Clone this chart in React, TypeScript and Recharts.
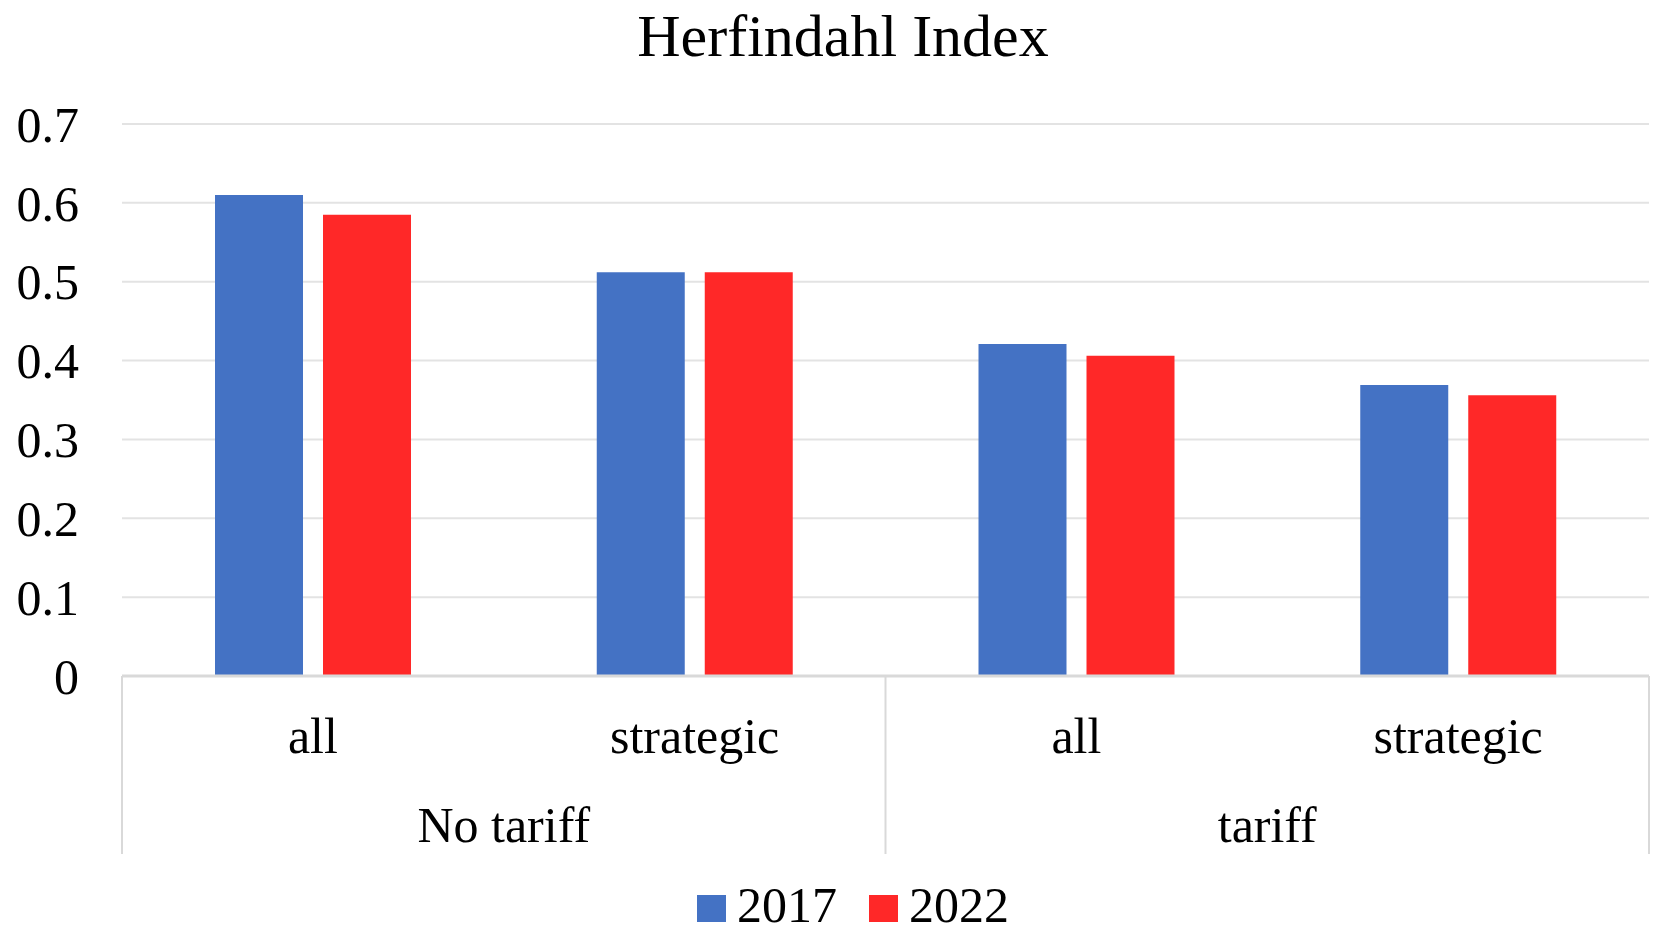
import React from "react";
import { Bar, BarChart, CartesianGrid, Legend, XAxis, YAxis } from "recharts";

const subLabels = ["all", "strategic", "all", "strategic"];
const groupLabels = ["No tariff", "No tariff", "tariff", "tariff"];
const values2017 = [0.61, 0.512, 0.421, 0.369];
const values2022 = [0.585, 0.512, 0.406, 0.356];
const yTicks = [0, 0.1, 0.2, 0.3, 0.4, 0.5, 0.6, 0.7];
const seriesNames = ["2017", "2022"];

const COLORS = { y2017: "#4472C4", y2022: "#FF2828" };
const FONT = '"Liberation Serif", "Times New Roman", serif';
const BORDER = "#d9d9d9";
const AXIS_H = 178;

const data = subLabels.map((sub, i) => ({
  sub,
  group: groupLabels[i],
  y2017: values2017[i],
  y2022: values2022[i],
}));

function CategoryTick(props: any) {
  const { x, y, payload, index } = props;
  const i = payload?.index ?? index;
  const half = payload?.offset ?? 190.9;
  const firstInGroup = i === 0 || groupLabels[i] !== groupLabels[i - 1];
  const last = i === subLabels.length - 1;
  return (
    <g>
      <text x={x} y={y + 77} textAnchor="middle" fontSize={50} fontFamily={FONT} fill="#000">
        {subLabels[i]}
      </text>
      {firstInGroup && (
        <text x={x + half} y={y + 166} textAnchor="middle" fontSize={50} fontFamily={FONT} fill="#000">
          {groupLabels[i]}
        </text>
      )}
      {firstInGroup && <line x1={x - half} x2={x - half} y1={y} y2={y + AXIS_H} stroke={BORDER} strokeWidth={2} />}
      {last && <line x1={x + half} x2={x + half} y1={y} y2={y + AXIS_H} stroke={BORDER} strokeWidth={2} />}
    </g>
  );
}

function LegendContent() {
  const colors = [COLORS.y2017, COLORS.y2022];
  return (
    <div style={{ display: "flex", alignItems: "center", paddingLeft: 697, fontFamily: FONT, fontSize: 50, lineHeight: "36px", color: "#000" }}>
      {seriesNames.map((name, i) => (
        <div key={name} style={{ display: "flex", alignItems: "center", marginRight: 32 }}>
          <span style={{ display: "inline-block", width: 29, height: 27, background: colors[i], marginRight: 11, marginTop: 6 }} />
          <span>{name}</span>
        </div>
      ))}
    </div>
  );
}

export default function App() {
  return (
    <div style={{ position: "absolute", left: 0, top: 0, width: 1657, height: 937, background: "#fff", overflow: "hidden" }}>
      <div
        style={{
          position: "absolute",
          left: 0,
          top: 6,
          width: 1686,
          textAlign: "center",
          fontFamily: FONT,
          fontSize: 60,
          lineHeight: "60px",
          color: "#000",
        }}
      >
        Herfindahl Index
      </div>
      <BarChart width={1657} height={937} data={data} margin={{ top: 124, right: 8, left: 0, bottom: 83 }} barSize={88} barGap={20}>
        <CartesianGrid vertical={false} stroke="#e3e3e3" strokeWidth={2} />
        <XAxis
          dataKey="sub"
          height={AXIS_H}
          tick={<CategoryTick />}
          tickLine={false}
          tickSize={0}
          tickMargin={0}
          interval={0}
          axisLine={{ stroke: BORDER, strokeWidth: 3 }}
        />
        <YAxis
          width={122}
          domain={[0, 0.7]}
          ticks={yTicks}
          axisLine={false}
          tickLine={false}
          tickSize={0}
          tickMargin={43}
          tick={{ fill: "#000", fontSize: 50, fontFamily: FONT }}
        />
        <Legend
          layout="horizontal"
          verticalAlign="middle"
          align="center"
          content={<LegendContent />}
          wrapperStyle={{ top: 887, left: 0, width: 1657 }}
        />
        <Bar dataKey="y2017" name="2017" fill={COLORS.y2017} isAnimationActive={false} />
        <Bar dataKey="y2022" name="2022" fill={COLORS.y2022} isAnimationActive={false} />
      </BarChart>
    </div>
  );
}
